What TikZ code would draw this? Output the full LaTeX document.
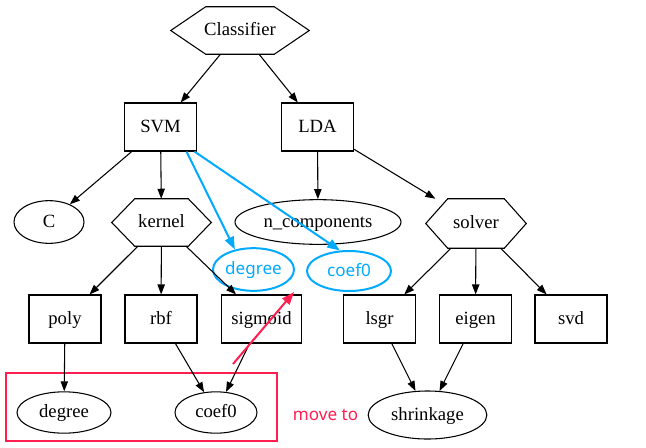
\documentclass[tikz,border=0pt]{standalone}
\usepackage{fontspec}
\setmainfont{Liberation Serif}
\newfontfamily\labsans{Noto Sans}
\usetikzlibrary{arrows.meta,shapes.geometric,calc}
\definecolor{skyb}{RGB}{0,170,255}
\definecolor{hotred}{RGB}{255,30,80}
\begin{document}
\begin{tikzpicture}[x=0.75pt,y=-0.75pt,
  font=\fontsize{14}{16}\selectfont,
  every node/.style={text height=10.5pt,text depth=2.4pt},
  box/.style={draw,rectangle,line width=0.8pt,inner sep=0pt,minimum width=54pt,minimum height=36pt},
  oval/.style={draw,ellipse,line width=0.8pt,inner sep=0pt},
  hexa/.style={rectangle,inner sep=0pt},
  blueoval/.style={draw=skyb,ellipse,line width=1.5pt,inner sep=0pt,text=skyb,font=\labsans\fontsize{12.8}{15}\selectfont},
  edge/.style={draw,line width=0.8pt,-{Triangle[length=7.5pt,width=5.5pt]}},
  blueedge/.style={draw=skyb,line width=1.5pt,-{Triangle[length=9.5pt,width=7pt]}},
  rededge/.style={draw=hotred,line width=1.5pt,-{Triangle[length=9.5pt,width=7pt]}},
]
\useasboundingbox (0,0) rectangle (646,447);

% hexagon-like nodes
\node[hexa,minimum width=103.5pt,minimum height=35.25pt] (cls) at (240,30.5) {Classifier};
\node[hexa,minimum width=74.25pt,minimum height=35.25pt] (ker) at (161.5,222.5) {kernel};
\node[hexa,minimum width=75pt,minimum height=36.75pt] (sol) at (476,223.5) {solver};
\foreach \n/\c in {cls/26.25pt,ker/17.25pt,sol/16.5pt}{
  \draw[line width=0.8pt] (\n.west) -- ([xshift=\c]\n.north west) -- ([xshift=-\c]\n.north east)
    -- (\n.east) -- ([xshift=-\c]\n.south east) -- ([xshift=\c]\n.south west) -- cycle;
}

% boxes
\node[box] (svm) at (160.5,127) {SVM};
\node[box] (lda) at (317.5,127) {LDA};
\node[box] (poly) at (65,319) {poly};
\node[box] (rbf) at (161,319) {rbf};
\node[box,minimum width=60pt] (sig) at (261.5,319) {sigmoid};
\node[box] (lsgr) at (379.5,319) {lsgr};
\node[box] (eig) at (475.5,319) {eigen};
\node[box] (svd) at (571,319) {svd};

% ellipses
\node[oval,minimum width=52.5pt,minimum height=32pt] (c) at (49,222) {C};
\node[oval,minimum width=124.5pt,minimum height=33.5pt] (ncomp) at (318,222) {n\_components};
\node[oval,minimum width=89pt,minimum height=36pt] (shr) at (427.5,415) {shrinkage};
\node[oval,minimum width=70.5pt,minimum height=31pt] (deg) at (64,412.5) {degree};
\node[oval,minimum width=61.5pt,minimum height=31pt] (coef) at (216,412.5) {coef0};

\node[blueoval,minimum width=60.75pt,minimum height=32pt] (bdeg) at (253.5,269.5) {degree};
\node[blueoval,minimum width=63pt,minimum height=30pt] (bcoef) at (349,271) {coef0};

% red group box and label
\node[draw=hotred,line width=1.5pt,rectangle,inner sep=0pt,minimum width=203.25pt,minimum height=51pt] (grp) at (141.5,407) {};
\node[text=hotred,font=\labsans\fontsize{12.8}{15}\selectfont] (mv) at (325.5,415) {move to};

% black edges
\draw[edge] (cls) -- (svm);
\draw[edge] (cls) -- (lda);
\draw[edge] (svm) -- (c);
\draw[edge] (svm) -- (ker);
\draw[edge] (lda) -- (ncomp);
\draw[edge] (lda) -- (sol);
\draw[edge] (ker) -- (poly);
\draw[edge] (ker) -- (rbf);
\draw[edge] (ker) -- (sig);
\draw[edge] (sol) -- (lsgr);
\draw[edge] (sol) -- (eig);
\draw[edge] (sol) -- (svd);
\draw[edge] (poly) -- (deg);
\draw[edge] (rbf) -- (coef);
\draw[edge] (sig) -- (coef);
\draw[edge] (lsgr) -- (shr);
\draw[edge] (eig) -- (shr);

% blue edges
\draw[blueedge] ([xshift=19.5pt]svm.south) -- (bdeg.133);
\draw[blueedge] ([xshift=25.5pt]svm.south) -- (bcoef.114);

% red arrow
\coordinate (rs) at (233,364);
\coordinate (re) at (294,292);
\draw[rededge] (rs) -- (re);
\end{tikzpicture}
\end{document}
